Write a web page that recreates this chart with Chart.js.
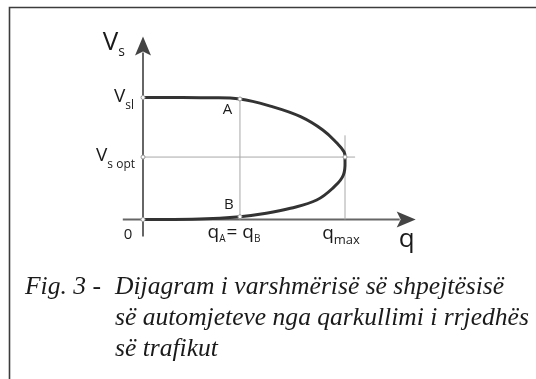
<!DOCTYPE html>
<html>
<head>
<meta charset="utf-8">
<script src="https://cdn.jsdelivr.net/npm/chart.js@4"></script>
<style>
  html, body { margin: 0; padding: 0; background: #fff; }
  #wrap { width: 536px; height: 379px; }
</style>
</head>
<body>
<div id="wrap"><canvas id="chart" width="536" height="379"></canvas></div>
<script>
// speed-flow curve, q normalised to q_max = 1, V normalised to V_sl = 1
const curveQ = [0, 0.15, 0.31, 0.48, 0.64, 0.78, 0.89, 0.96, 0.995, 1.0, 0.992, 0.94, 0.86, 0.73, 0.61, 0.48, 0.28, 0];
const curveV = [1.0, 1.0, 0.998, 0.988, 0.925, 0.843, 0.734, 0.627, 0.556, 0.512, 0.365, 0.258, 0.16, 0.092, 0.051, 0.023, 0.004, 0];

const qA = 0.48, qMax = 1.0;
const vSl = 1.0, vOpt = 0.512, vA = 0.988, vB = 0.023;

// marked points: origin, V_sl, V_s opt, A, B, q_max
const nodeQ = [0, 0, 0, qA, qA, qMax];
const nodeV = [0, vSl, vOpt, vA, vB, vOpt];

const captionHead = 'Fig. 3 -';
const captionLines = [
  'Dijagram i varshmërisë së shpejtësisë',
  'së automjeteve nga qarkullimi i rrjedhës',
  'së trafikut'
];

const pts = (xs, ys) => xs.map((x, i) => ({ x: x, y: ys[i] }));

const SANS = '"Open Sans", "Noto Sans", sans-serif';
const INK = '#1a1a1a';

// draws text made of pieces (main text + subscripts) starting at x
function drawParts(ctx, parts, x, y, align) {
  let w = 0;
  parts.forEach(p => { ctx.font = p.font; w += ctx.measureText(p.t).width + (p.gap || 0); });
  let cx = align === 'right' ? x - w : align === 'center' ? x - w / 2 : x;
  ctx.textAlign = 'left';
  ctx.textBaseline = 'alphabetic';
  parts.forEach(p => {
    ctx.font = p.font;
    ctx.fillText(p.t, cx, y + (p.dy || 0));
    cx += ctx.measureText(p.t).width + (p.gap || 0);
  });
}

function arrowHead(ctx, tx, ty, dir) {
  ctx.beginPath();
  if (dir === 'up') {
    ctx.moveTo(tx, ty);
    ctx.lineTo(tx + 8, ty + 19);
    ctx.lineTo(tx, ty + 15);
    ctx.lineTo(tx - 8, ty + 19);
  } else {
    ctx.moveTo(tx, ty);
    ctx.lineTo(tx - 19, ty - 8);
    ctx.lineTo(tx - 15, ty);
    ctx.lineTo(tx - 19, ty + 8);
  }
  ctx.closePath();
  ctx.fill();
}

const diagramPlugin = {
  id: 'diagram',
  beforeDraw(chart) {
    const ctx = chart.ctx;
    ctx.save();
    ctx.fillStyle = '#fff';
    ctx.fillRect(0, 0, chart.width, chart.height);
    // frame
    ctx.strokeStyle = '#3c3c3c';
    ctx.lineWidth = 1.6;
    ctx.beginPath();
    ctx.moveTo(9.5, chart.height);
    ctx.lineTo(9.5, 7.5);
    ctx.lineTo(chart.width, 7.5);
    ctx.stroke();
    ctx.restore();
  },
  beforeDatasetsDraw(chart) {
    const ctx = chart.ctx;
    const xs = chart.scales.x, ys = chart.scales.y;
    const ox = xs.getPixelForValue(0), oy = ys.getPixelForValue(0);
    const area = chart.chartArea;
    ctx.save();
    ctx.strokeStyle = '#666';
    ctx.lineWidth = 2;
    ctx.beginPath();
    ctx.moveTo(ox, area.bottom);
    ctx.lineTo(ox, area.top + 16);
    ctx.moveTo(area.left, oy);
    ctx.lineTo(area.right - 16, oy);
    ctx.stroke();
    ctx.fillStyle = '#444';
    arrowHead(ctx, ox, area.top, 'up');
    arrowHead(ctx, area.right, oy, 'right');
    ctx.restore();
  },
  afterDraw(chart) {
    const ctx = chart.ctx;
    const xs = chart.scales.x, ys = chart.scales.y;
    const ox = xs.getPixelForValue(0);
    const oy = ys.getPixelForValue(0);
    const area = chart.chartArea;
    ctx.save();
    ctx.fillStyle = INK;

    const big = '26px ' + SANS, mid = '19px ' + SANS, lab = '15px ' + SANS;
    const sub = '13px ' + SANS, subS = '12px ' + SANS, tiny = '10px ' + SANS;

    // axis titles
    drawParts(ctx, [{ t: 'V', font: big }, { t: 's', font: '14px ' + SANS, dy: 6 }], ox - 18, area.top + 13.5, 'right');
    drawParts(ctx, [{ t: 'q', font: big }], area.right - 9, oy + 27.5, 'center');

    // level labels on the V axis
    const ySl = ys.getPixelForValue(vSl), yOpt = ys.getPixelForValue(vOpt);
    drawParts(ctx, [{ t: 'V', font: mid }, { t: 'sl', font: subS, dy: 7 }], ox - 9, ySl + 4, 'right');
    drawParts(ctx, [{ t: 'V', font: mid }, { t: 's opt', font: subS, dy: 7 }], ox - 8, yOpt + 3.5, 'right');

    // origin and point labels
    ctx.font = lab;
    ctx.textAlign = 'center';
    ctx.fillText('0', ox - 15, oy + 19);
    const xA = xs.getPixelForValue(qA), xM = xs.getPixelForValue(qMax);
    ctx.fillText('A', xA - 12.5, ys.getPixelForValue(vA) + 15);
    ctx.fillText('B', xA - 11, ys.getPixelForValue(vB) - 8);

    drawParts(ctx, [
      { t: 'q', font: mid }, { t: 'A', font: tiny, dy: 4, gap: 1 },
      { t: '= ', font: mid }, { t: 'q', font: mid }, { t: 'B', font: tiny, dy: 4 }
    ], xA - 6, oy + 18.5, 'center');
    drawParts(ctx, [{ t: 'q', font: mid }, { t: 'max', font: sub, dy: 5 }], xM - 4, oy + 19, 'center');

    // caption
    const serif = '"Liberation Serif", "DejaVu Serif", serif';
    ctx.font = 'italic 20px ' + serif;
    const fitW = ctx.measureText(captionLines[1]).width;
    const size = 20 * 414 / fitW;
    ctx.font = 'italic ' + size.toFixed(2) + 'px ' + serif;
    ctx.fillStyle = '#1a1a1a';
    ctx.textAlign = 'left';
    ctx.fillText(captionHead, 25, 294);
    captionLines.forEach((line, i) => ctx.fillText(line, 115, 294 + i * 31));
    ctx.restore();
  }
};

const guideColor = '#a8a8a8';

new Chart(document.getElementById('chart'), {
  type: 'line',
  data: {
    datasets: [
      {
        data: pts([qA, qA], [0, vA]),
        borderColor: guideColor, borderWidth: 1, pointRadius: 0, order: 3
      },
      {
        data: pts([0, 1.05], [vOpt, vOpt]),
        borderColor: guideColor, borderWidth: 1, pointRadius: 0, order: 3
      },
      {
        data: pts([qMax, qMax], [0, 0.69]),
        borderColor: guideColor, borderWidth: 1, pointRadius: 0, order: 3
      },
      {
        data: pts(curveQ, curveV),
        borderColor: '#333', borderWidth: 3, pointRadius: 0,
        tension: 0.4, order: 2
      },
      {
        data: pts(nodeQ, nodeV),
        showLine: false, pointRadius: 2, pointBackgroundColor: '#fff',
        pointBorderColor: '#999', pointBorderWidth: 1, order: 1
      }
    ]
  },
  options: {
    responsive: false,
    animation: false,
    devicePixelRatio: 1,
    layout: { padding: { left: 122.8, right: 120.3, top: 36.5, bottom: 142.4 } },
    plugins: { legend: { display: false }, tooltip: { enabled: false } },
    scales: {
      x: { type: 'linear', min: -0.1, max: 1.35, display: false },
      y: { type: 'linear', min: -0.14, max: 1.5, display: false }
    }
  },
  plugins: [diagramPlugin]
});
</script>
</body>
</html>
